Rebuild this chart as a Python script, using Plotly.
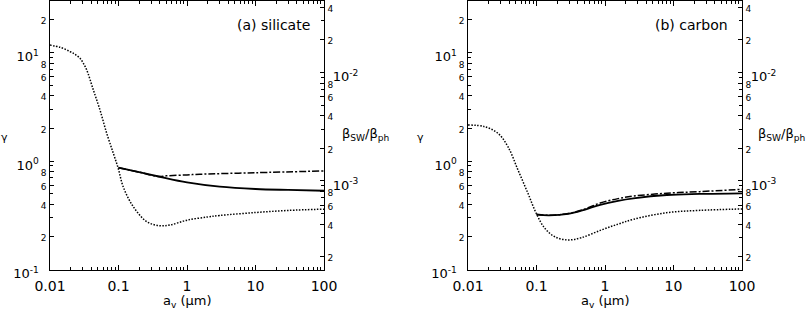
import plotly.graph_objects as go

# ---------------- data ----------------
# (a) silicate
sil_dot_x = [0.01, 0.014, 0.0196, 0.0232, 0.0274, 0.0307, 0.0344, 0.043, 0.0537, 0.0673, 0.084,
             0.099, 0.117, 0.164, 0.258, 0.40, 0.565, 1.0, 2.0, 3.0, 10.0, 30.0, 100.0]
sil_dot_beta = [0.01788, 0.0171, 0.01559, 0.01468, 0.01352, 0.01213, 0.01054, 0.00688, 0.00451,
                0.00275, 0.00180, 0.00131, 0.000886, 0.000581, 0.000422, 0.000387, 0.000393,
                0.000435, 0.000466, 0.000481, 0.000512, 0.000535, 0.00055]
sil_solid_x = [0.1, 0.2, 0.4, 1.0, 3.0, 10.0, 30.0, 100.0]
sil_solid_gamma = [0.867, 0.79, 0.716, 0.635, 0.58, 0.552, 0.541, 0.532]
sil_dd_x = [0.1, 0.2, 0.38, 0.5, 1.0, 1.55, 10.0, 100.0]
sil_dd_gamma = [0.867, 0.79, 0.72, 0.73, 0.745, 0.755, 0.78, 0.81]

# (b) carbon
car_dot_x = [0.01, 0.0175, 0.0274, 0.0384, 0.0537, 0.075, 0.099, 0.132, 0.185, 0.288, 0.45,
             0.88, 1.55, 2.59, 7.9, 24.4, 100.0]
car_dot_beta = [0.003285, 0.003163, 0.00275, 0.002063, 0.001262, 0.00077, 0.000504, 0.000367,
                0.000306, 0.000286, 0.0003, 0.000353, 0.000400, 0.000443, 0.00051, 0.000536,
                0.000552]
car_solid_x = [0.1, 0.15, 0.29, 0.5, 0.85, 1.55, 2.6, 8.0, 24.0, 100.0]
car_solid_gamma = [0.322, 0.316, 0.325, 0.355, 0.395, 0.43, 0.453, 0.486, 0.497, 0.504]
car_dd_x = [0.1, 0.15, 0.29, 0.5, 0.85, 1.55, 2.6, 8.0, 24.0, 100.0]
car_dd_gamma = [0.322, 0.316, 0.328, 0.36, 0.41, 0.45, 0.475, 0.505, 0.522, 0.548]

# tick labels
x_tickvals = [0.01, 0.1, 1, 10, 100]
x_ticktext = ["0.01", "0.1", "1", "10", "100"]
gamma_major_vals = [0.1, 1, 10]
gamma_major_text = ["10<sup>-1</sup>", "10<sup>0</sup>", "10<sup>1</sup>"]
gamma_minor_lab_vals = [0.2, 0.4, 0.6, 0.8, 2, 4, 6, 8, 20]
gamma_minor_lab_text = ["2", "4", "6", "8", "2", "4", "6", "8", "2"]
beta_major_vals = [1e-3, 1e-2]
beta_major_text = ["10<sup>-3</sup>", "10<sup>-2</sup>"]
beta_minor_lab_vals = [2e-4, 4e-4, 6e-4, 8e-4, 2e-3, 4e-3, 6e-3, 8e-3, 2e-2, 4e-2]
beta_minor_lab_text = ["2", "4", "6", "8", "2", "4", "6", "8", "2", "4"]

# ---------------- layout geometry ----------------
W, H = 810, 313
FONT = "DejaVu Sans"
NB = "\u00a0"
def px_x(p):
    return p / W
def px_y(p):
    return 1 - p / H

x_minor = [k * 10 ** e for e in range(-2, 2) for k in range(2, 10)]
g_minor = [k * 10 ** e for e in range(-1, 2) for k in (3, 5, 7, 9)]
b_minor = [k * 10 ** e for e in range(-4, -1) for k in (3, 5, 7, 9)]

GR = [-1, 1.475]
BR = [-3.816, -1.341]
ydom = [px_y(269.5), px_y(1)]

def small(t):
    return '<span style="font-size:9px">' + t + '</span>'

def pad(n, size):
    return '<span style="font-size:%dpx">' % size + NB * n + '</span>'

def low(t):
    return '<span style="baseline-shift:-4px">' + t + '</span>'

g_vals = gamma_major_vals + gamma_minor_lab_vals
g_text_left = [low(t) + pad(2, 12) for t in gamma_major_text] + [small(t) for t in gamma_minor_lab_text]
b_vals = beta_major_vals + beta_minor_lab_vals
b_text_right = [pad(2, 8) + low(t) for t in beta_major_text] + [small(t) for t in beta_minor_lab_text]

fig = go.Figure()

def add_panel(xa, ya_g, ya_b, dot_x, dot_b, sol_x, sol_g, dd_x, dd_g):
    fig.add_trace(go.Scatter(x=dot_x, y=dot_b, xaxis=xa, yaxis=ya_b, mode="lines",
                             line=dict(color="black", width=1.5, dash="1.5px,1.5px", shape="spline"),
                             showlegend=False, hoverinfo="skip"))
    fig.add_trace(go.Scatter(x=dd_x, y=dd_g, xaxis=xa, yaxis=ya_g, mode="lines",
                             line=dict(color="black", width=1.5, dash="7px,2px,2px,2px", shape="spline"),
                             showlegend=False, hoverinfo="skip"))
    fig.add_trace(go.Scatter(x=sol_x, y=sol_g, xaxis=xa, yaxis=ya_g, mode="lines",
                             line=dict(color="black", width=1.8, shape="spline"),
                             showlegend=False, hoverinfo="skip"))

add_panel("x", "y", "y2", sil_dot_x, sil_dot_beta, sil_solid_x, sil_solid_gamma, sil_dd_x, sil_dd_gamma)
add_panel("x2", "y3", "y4", car_dot_x, car_dot_beta, car_solid_x, car_solid_gamma, car_dd_x, car_dd_gamma)

def xaxis_def(dom):
    return dict(domain=dom, type="log", range=[-2, 2], tickmode="array",
                tickvals=x_tickvals, ticktext=x_ticktext, ticks="inside", ticklen=5,
                tickcolor="black", showline=True, linecolor="black", linewidth=1,
                mirror="ticks", showgrid=False, zeroline=False, automargin=False,
                tickfont=dict(family=FONT, size=14, color="black"), ticklabelstandoff=4,
                minor=dict(tickvals=x_minor, ticks="inside", ticklen=3, tickcolor="black",
                           showgrid=False))

def yaxis_main(anchor, rng, vals, text, minor, side, overlay=None):
    d = dict(type="log", range=rng, tickmode="array", tickvals=vals, ticktext=text,
             ticks="inside", ticklen=4, tickcolor="black", showline=True, linecolor="black",
             linewidth=1, showgrid=False, zeroline=False, anchor=anchor, side=side,
             automargin=False,
             tickfont=dict(family=FONT, size=13, color="black"), ticklabelstandoff=0,
             minor=dict(tickvals=minor, ticks="inside", ticklen=3, tickcolor="black",
                        showgrid=False))
    if overlay:
        d["overlaying"] = overlay
    else:
        d["domain"] = ydom
    return d

fig.update_layout(
    width=W, height=H, margin=dict(l=0, r=0, t=0, b=0, autoexpand=False),
    paper_bgcolor="white", plot_bgcolor="white", showlegend=False,
    xaxis=xaxis_def([px_x(50), px_x(324)]),
    xaxis2=xaxis_def([px_x(468), px_x(742)]),
    yaxis=yaxis_main("x", GR, g_vals, g_text_left, g_minor, "left"),
    yaxis2=yaxis_main("x", BR, b_vals, b_text_right, b_minor, "right", "y"),
    yaxis3=yaxis_main("x2", GR, g_vals, g_text_left, g_minor, "left"),
    yaxis4=yaxis_main("x2", BR, b_vals, b_text_right, b_minor, "right", "y3"),
)

def ann(text, x, y, size, xanchor="center", yanchor="middle"):
    fig.add_annotation(text=text, x=px_x(x), y=px_y(y), xref="paper", yref="paper",
                       showarrow=False, xanchor=xanchor, yanchor=yanchor,
                       font=dict(family=FONT, size=size, color="black"))

ann("(a) silicate", 235, 25, 14, xanchor="left")
ann("(b) carbon", 653, 25, 14, xanchor="left")
ann("γ", 4.5, 138, 11)
ann("γ", 420.5, 138, 11)
ann("β<sub>SW</sub>/β<sub>ph</sub>", 340, 134, 13, xanchor="left")
ann("β<sub>SW</sub>/β<sub>ph</sub>", 756, 134, 13, xanchor="left")
ann("a<sub>v</sub> (μm)", 187, 301, 13)
ann("a<sub>v</sub> (μm)", 605, 301, 13)

# the page's default body margin would offset the fixed-size figure; remove it
fig.write_html("out.html", config={"displayModeBar": False},
               post_script="document.body.style.margin='0px';")
